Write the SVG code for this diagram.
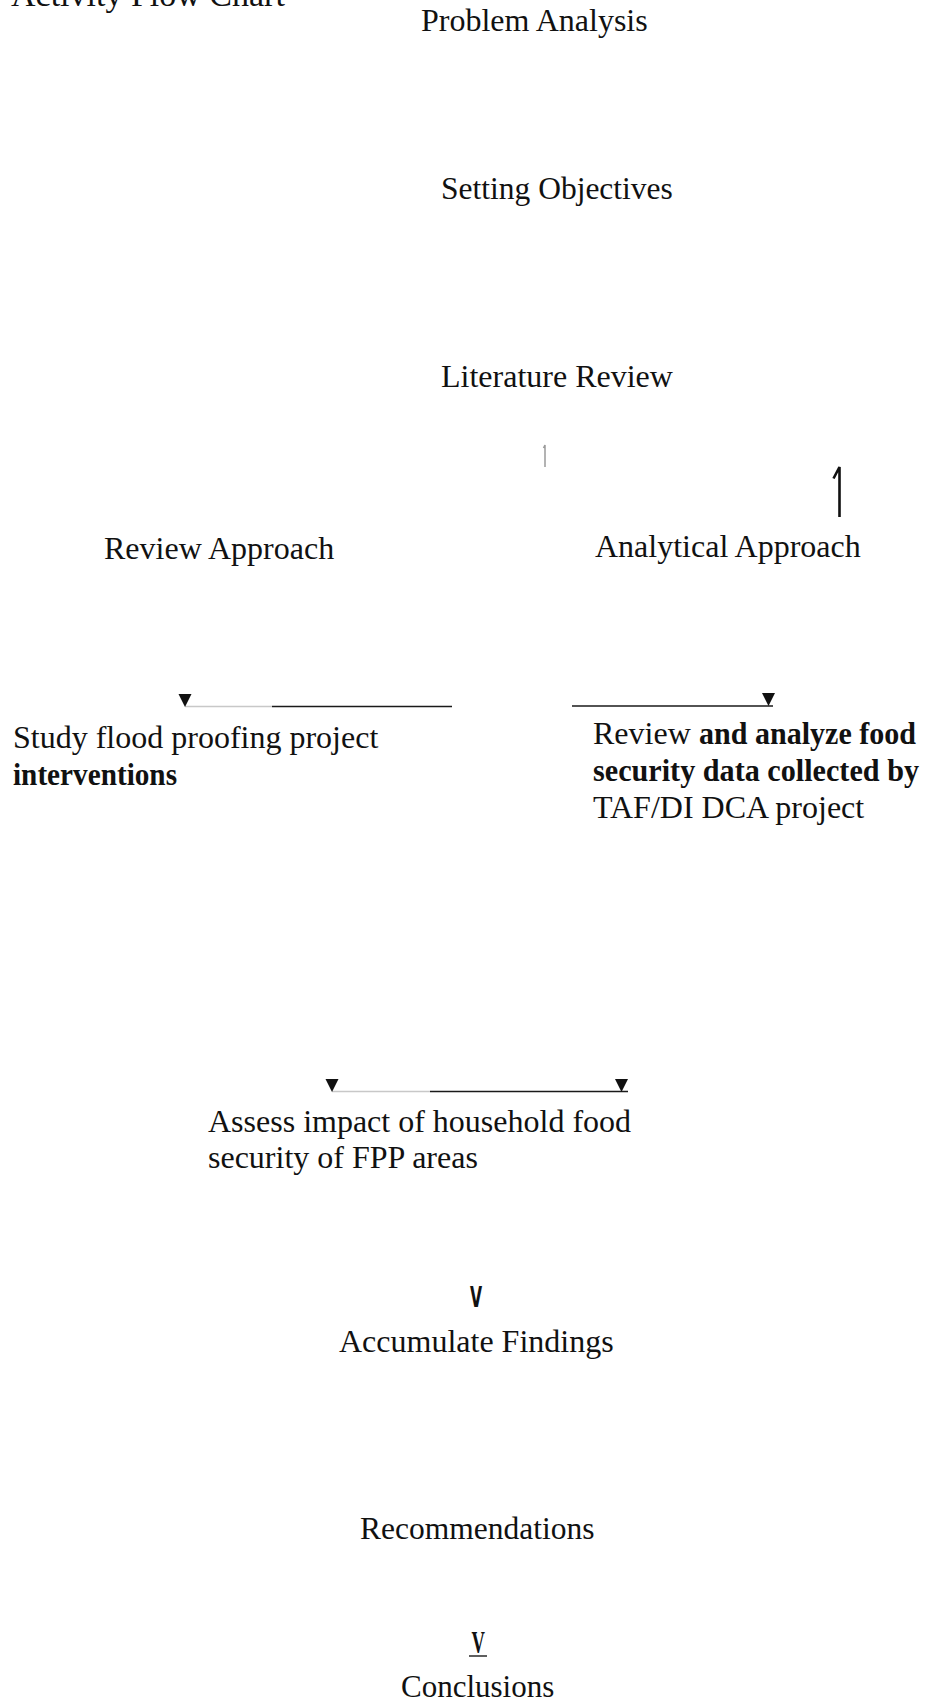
<svg xmlns="http://www.w3.org/2000/svg" xmlns:xlink="http://www.w3.org/1999/xlink" width="925" height="1700" viewBox="0 0 925 1700">
<style>
  .t { font-family: "Liberation Serif", "Times New Roman", serif; font-size: 32px; fill: #111; }
  .b { font-weight: bold; }
  .ln { stroke: #1a1a1a; stroke-width: 1.4; fill: none; }
  .lg { stroke: #c8c8c8; stroke-width: 1.4; fill: none; }
  .ah { fill: #111; }
</style>
<defs>
  <path id="arrowhead" class="ah" d="M-6.5,-13 L6.5,-13 L0,0 Z"/>
</defs>
<rect width="925" height="1700" fill="#fff"/>

<g id="title"><text class="t" x="11" y="5.5" style="font-size:34px">Activity Flow Chart</text></g>
<g id="n-problem"><text class="t" x="421" y="30.5">Problem Analysis</text></g>
<g id="n-objectives"><text class="t" x="441" y="199" style="font-size:31.5px">Setting Objectives</text></g>
<g id="n-literature"><text class="t" x="441" y="386.5">Literature Review</text></g>
<g id="n-review"><text class="t" x="104" y="559">Review Approach</text></g>
<g id="n-analytical"><text class="t" x="595" y="556.5">Analytical Approach</text></g>
<g id="n-study">
  <text class="t" x="13" y="748">Study flood proofing project</text>
  <text class="t b" x="13" y="785" textLength="164" lengthAdjust="spacingAndGlyphs">interventions</text>
</g>
<g id="n-analyze">
  <text class="t" x="593" y="744">Review</text>
  <text class="t b" x="699" y="744" textLength="217" lengthAdjust="spacingAndGlyphs">and analyze food</text>
  <text class="t b" x="593" y="781" textLength="326" lengthAdjust="spacingAndGlyphs">security data collected by</text>
  <text class="t" x="593" y="818">TAF/DI DCA project</text>
</g>
<g id="n-assess">
  <text class="t" x="208" y="1131.5">Assess impact of household food</text>
  <text class="t" x="208" y="1168">security of FPP areas</text>
</g>
<g id="n-accumulate"><text class="t" x="339" y="1352">Accumulate Findings</text></g>
<g id="n-recommendations"><text class="t" x="360" y="1539" style="font-size:31.5px">Recommendations</text></g>
<g id="n-conclusions"><text class="t" x="401" y="1697" style="font-size:31px">Conclusions</text></g>

<g id="connectors">
  <path d="M543.5,448 L545,445 L545,467" stroke="#9a9a9a" stroke-width="1.5" fill="none"/>
  <path d="M833.5,478.5 L839.5,467 L839.5,517" stroke="#111" stroke-width="2.6" fill="none"/>

  <line class="lg" x1="185" y1="706.5" x2="272" y2="706.5"/>
  <line class="ln" x1="272" y1="706.5" x2="452" y2="706.5"/>
  <use xlink:href="#arrowhead" x="185" y="707"/>

  <line class="ln" x1="572" y1="706" x2="773" y2="706"/>
  <use xlink:href="#arrowhead" x="768.5" y="706"/>

  <line class="lg" x1="332" y1="1091.5" x2="430" y2="1091.5"/>
  <line class="ln" x1="430" y1="1091.5" x2="628" y2="1091.5"/>
  <use xlink:href="#arrowhead" x="332" y="1092"/>
  <use xlink:href="#arrowhead" x="621.5" y="1092"/>

  <text transform="translate(476,1307) scale(0.54,1)" x="0" y="0" text-anchor="middle" style="font-family:'DejaVu Sans', sans-serif; font-weight:bold; font-size:29px; fill:#111">V</text>
  <text transform="translate(478.3,1653) scale(0.58,1)" x="0" y="0" text-anchor="middle" style="font-family:'Liberation Serif', serif; font-weight:bold; font-size:32px; fill:#111">V</text>
  <line class="ln" x1="469" y1="1656" x2="487" y2="1656" stroke-width="1.8"/>
</g>
</svg>
